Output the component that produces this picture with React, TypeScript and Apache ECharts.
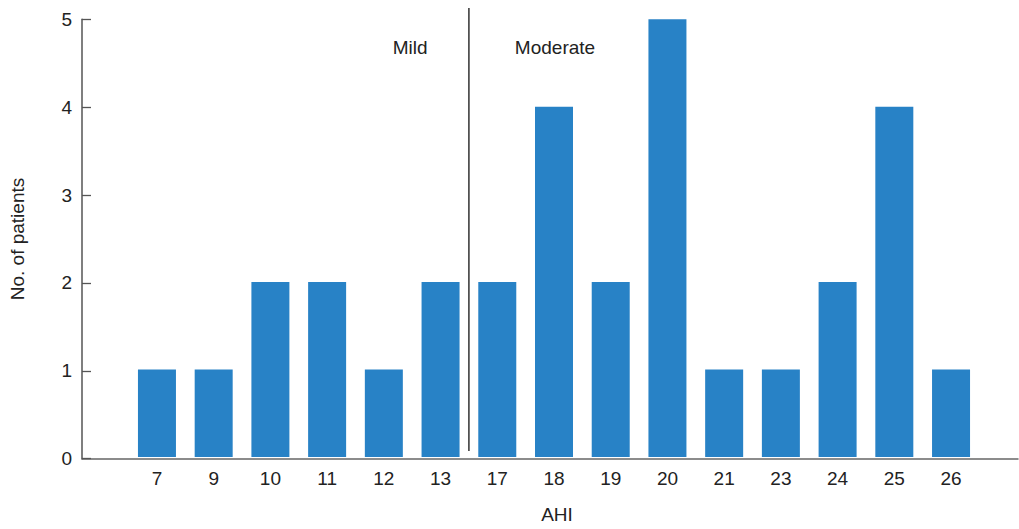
import React, { useEffect, useRef } from "react";
import * as echarts from "echarts";

const categories = ["7", "9", "10", "11", "12", "13", "17", "18", "19", "20", "21", "23", "24", "25", "26"];
const patients = [1, 1, 2, 2, 1, 2, 2, 4, 2, 5, 1, 1, 2, 4, 1];
const yTicks = [0, 1, 2, 3, 4, 5];
const regionLabels = ["Mild", "Moderate"];

const FONT = "Liberation Sans, Arial, Helvetica, sans-serif";
const TEXT = "#222";
const FS = 19;

export default function App() {
  const ref = useRef<HTMLDivElement>(null);
  useEffect(() => {
    if (!ref.current) return;
    const chart = echarts.init(ref.current, undefined, { renderer: "svg" });
    const top = 19.3;
    const bottom = 70.3;
    chart.setOption({
      animation: false,
      textStyle: { fontFamily: FONT },
      grid: [
        { left: 82, right: 1, top, bottom },
        { left: 128.6, right: 39.6, top, bottom },
      ],
      xAxis: [
        {
          type: "value",
          gridIndex: 0,
          min: 0,
          max: 1,
          axisLine: { show: true, lineStyle: { color: "#666", width: 1.5 } },
          axisTick: { show: false },
          axisLabel: { show: false },
          splitLine: { show: false },
        },
        {
          type: "category",
          gridIndex: 1,
          data: categories,
          axisLine: { show: false },
          axisTick: { show: false },
          axisLabel: { fontSize: FS, color: TEXT, margin: 12, fontFamily: FONT },
          name: "AHI",
          nameLocation: "middle",
          nameGap: 48,
          nameTextStyle: { fontSize: FS, color: TEXT, fontFamily: FONT, padding: [0, 0, 0, 6] },
        },
      ],
      yAxis: [
        {
          type: "value",
          gridIndex: 0,
          min: yTicks[0],
          max: yTicks[yTicks.length - 1],
          interval: 1,
          axisLine: { show: true, lineStyle: { color: "#555", width: 1.5 } },
          axisTick: { show: true, inside: true, length: 9, lineStyle: { color: "#555", width: 1.3 } },
          axisLabel: { fontSize: FS, color: TEXT, margin: 10, fontFamily: FONT },
          splitLine: { show: false },
          name: "No. of patients",
          nameLocation: "middle",
          nameGap: 55,
          nameTextStyle: { fontSize: FS, color: TEXT, fontFamily: FONT },
        },
        {
          type: "value",
          gridIndex: 1,
          min: yTicks[0],
          max: yTicks[yTicks.length - 1],
          interval: 1,
          show: false,
          splitLine: { show: false },
        },
      ],
      series: [
        {
          type: "bar",
          xAxisIndex: 1,
          yAxisIndex: 1,
          data: patients,
          barWidth: 38,
          itemStyle: { color: "#2882c6" },
          z: 1,
        },
      ],
    });

    const iMild = categories.indexOf("12");
    const i13 = categories.indexOf("13");
    const i17 = categories.indexOf("17");
    const iMod = categories.indexOf("18");
    const px = (i: number) => chart.convertToPixel({ xAxisIndex: 1 }, i) as number;
    const xDiv = (px(i13) + px(i17)) / 2;
    const xMild = (px(iMild) + px(i13)) / 2 - 2;
    const xMod = px(iMod) + 1;
    const y0 = chart.convertToPixel({ yAxisIndex: 1 }, 0) as number;

    chart.setOption({
      graphic: [
        {
          type: "line",
          shape: { x1: xDiv, y1: 8, x2: xDiv, y2: y0 - 6 },
          style: { stroke: "#111", lineWidth: 1.3 },
          z: 10,
        },
        {
          type: "text",
          x: xMild,
          y: 47,
          style: { text: regionLabels[0], fontSize: FS, fill: TEXT, fontFamily: FONT, align: "center", verticalAlign: "middle" },
        },
        {
          type: "text",
          x: xMod,
          y: 47,
          style: { text: regionLabels[1], fontSize: FS, fill: TEXT, fontFamily: FONT, align: "center", verticalAlign: "middle" },
        },
      ],
    });

    return () => chart.dispose();
  }, []);
  return <div ref={ref} style={{ width: 1019, height: 529, position: "absolute", left: 0, top: 0 }} />;
}
